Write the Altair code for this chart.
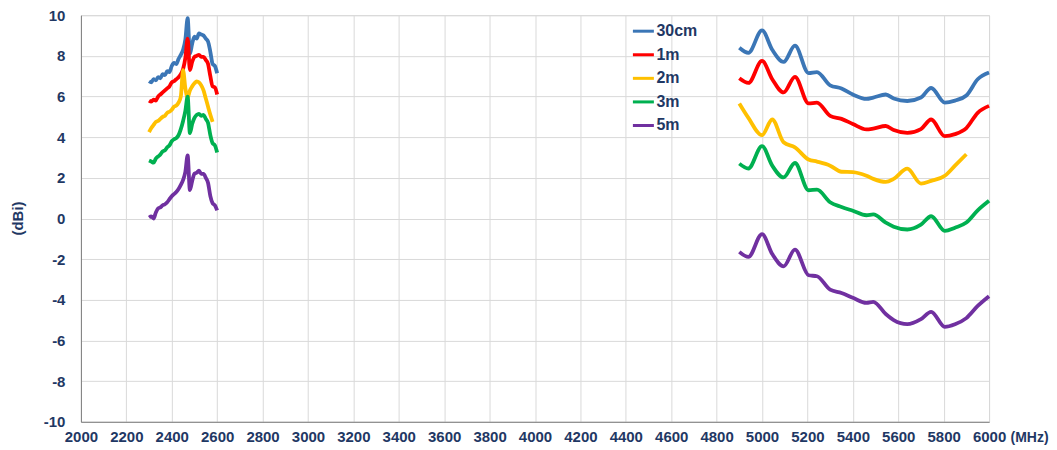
import altair as alt
import pandas as pd

series = ["30cm", "1m", "2m", "3m", "5m"]
colors = ["#3B76B6", "#FF0000", "#FFC000", "#00B050", "#7030A0"]

# 2.4 GHz band
f24 = [2300, 2310, 2320, 2330, 2340, 2350, 2360, 2370, 2380, 2390, 2400, 2410, 2420, 2430, 2440,
       2450, 2460, 2470, 2480, 2490, 2500, 2510, 2520, 2530, 2540, 2550, 2560, 2570, 2580, 2590, 2600]
g24_30cm = [6.75, 6.7, 6.85, 6.8, 6.95, 6.9, 7.1, 7.05, 7.25, 7.2, 7.5, 7.65, 7.6, 7.85, 8.05,
            8.3, 8.8, 9.85, 8.1, 8.6, 8.95, 8.85, 9.1, 9.05, 9.0, 8.85, 8.7, 8.2, 7.6, 7.5, 7.15]
g24_1m = [5.8, 5.75, 5.85, 5.8, 6.0, 6.1, 6.2, 6.3, 6.4, 6.5, 6.7, 6.75, 6.85, 6.95, 7.1,
          7.35, 7.9, 8.85, 7.3, 7.7, 7.95, 8.0, 8.05, 7.95, 7.95, 7.8, 7.6, 7.0, 6.5, 6.45, 6.1]
g24_2m = [4.25, 4.45, 4.6, 4.75, 4.8, 4.9, 5.0, 5.05, 5.2, 5.25, 5.35, 5.5, 5.55, 5.7, 6.0,
          7.3, 6.4, 5.95, 6.3, 6.5, 6.65, 6.75, 6.7, 6.55, 6.3, 5.9, 5.5, 5.1, 4.75]
g24_3m = [2.85, 2.8, 2.75, 2.95, 3.05, 3.15, 3.3, 3.35, 3.5, 3.6, 3.8, 3.9, 3.95, 4.1, 4.4,
          4.8, 5.3, 6.0, 4.2, 4.65, 4.95, 5.1, 5.15, 5.05, 5.1, 4.9, 4.7, 4.1, 3.7, 3.6, 3.25]
g24_5m = [0.05, 0.1, 0.0, 0.3, 0.5, 0.55, 0.65, 0.7, 0.8, 0.95, 1.1, 1.2, 1.3, 1.45, 1.65,
          1.9, 2.3, 3.1, 1.4, 1.85, 2.2, 2.25, 2.35, 2.2, 2.2, 2.0, 1.75, 1.1, 0.75, 0.65, 0.4]

# 5 GHz band
f5 = [4900, 4940, 5000, 5045, 5095, 5145, 5205, 5242, 5300, 5350, 5400, 5460, 5490, 5545,
      5580, 5640, 5700, 5745, 5805, 5850, 5900, 5950, 6000]
g5_30cm = [8.4, 8.15, 9.25, 8.3, 7.7, 8.5, 7.15, 7.2, 6.55, 6.4, 6.1, 5.88, 5.95, 6.1,
           5.9, 5.78, 5.95, 6.42, 5.7, 5.8, 6.05, 6.85, 7.18]
g5_1m = [6.9, 6.67, 7.75, 6.85, 6.2, 6.97, 5.66, 5.7, 5.05, 4.9, 4.65, 4.38, 4.42, 4.55,
         4.35, 4.21, 4.4, 4.87, 4.05, 4.15, 4.45, 5.2, 5.54]
g5_2m = [5.66, 4.95, 4.1, 4.87, 3.75, 3.5, 2.9, 2.8, 2.6, 2.3, 2.28, 2.1, 1.95, 1.8,
         1.95, 2.45, 1.72, 1.85, 2.1, 2.6, 3.16]
g5_3m = [2.7, 2.46, 3.56, 2.6, 2.02, 2.73, 1.39, 1.42, 0.8, 0.57, 0.38, 0.16, 0.2, -0.2,
         -0.4, -0.54, -0.3, 0.11, -0.61, -0.45, -0.2, 0.4, 0.87]
g5_5m = [-1.64, -1.89, -0.77, -1.75, -2.35, -1.53, -2.79, -2.84, -3.5, -3.66, -3.9, -4.15, -4.1, -4.7,
         -5.0, -5.2, -4.95, -4.59, -5.33, -5.2, -4.9, -4.3, -3.82]

x_ticks = list(range(2000, 6001, 200))
y_ticks = list(range(-10, 11, 2))

rows = []
for name, v24, v5 in zip(series,
                         [g24_30cm, g24_1m, g24_2m, g24_3m, g24_5m],
                         [g5_30cm, g5_1m, g5_2m, g5_3m, g5_5m]):
    for f, v in zip(f24, v24):
        rows.append({"series": name, "band": "2.4G", "f": f, "g": v})
    for f, v in zip(f5, v5):
        rows.append({"series": name, "band": "5G", "f": f, "g": v})
df = pd.DataFrame(rows)

navy = "#1F3864"
font = "Liberation Sans"

chart = alt.Chart(df).mark_line(strokeWidth=3.8, interpolate="monotone").encode(
    x=alt.X("f:Q",
            scale=alt.Scale(domain=[2000, 6000], nice=False, zero=False),
            axis=alt.Axis(values=x_ticks, title="(MHz)", labelPadding=8, labelFlush=False,
                          labelExpr="'' + datum.value",
                          titleX=930, titleY=16, titleAlign="left", titleBaseline="middle",
                          titleFontSize=14)),
    y=alt.Y("g:Q",
            scale=alt.Scale(domain=[-10, 10], nice=False, zero=False),
            axis=alt.Axis(values=y_ticks, title="(dBi)", labelPadding=16, labelFlush=False,
                          labelExpr="'' + datum.value",
                          titleX=-63, titleY=203, titleAlign="center", titleBaseline="middle")),
    color=alt.Color("series:N",
                    scale=alt.Scale(domain=series, range=colors),
                    legend=alt.Legend(title=None, orient="none", legendX=551, legendY=4,
                                      symbolType="stroke", symbolSize=441, symbolStrokeWidth=3,
                                      labelFont=font, labelFontSize=16, labelFontWeight="bold",
                                      labelColor=navy, rowPadding=3.6, padding=0,
                                      labelOffset=1)),
    detail="band:N",
    order="f:Q",
).properties(
    width=909, height=407,
    padding={"left": 3, "top": 0, "right": 0, "bottom": 0},
).configure_view(
    stroke="#D9D9D9"
).configure_axis(
    labelFont=font, labelFontSize=15, labelFontWeight="bold", labelColor=navy,
    titleFont=font, titleFontSize=15, titleFontWeight="bold", titleColor=navy,
    gridColor="#D9D9D9", gridWidth=1, domainColor="#7F7F7F", domainWidth=1,
    ticks=False, tickSize=0,
)

chart.save("out.html", embed_options={"renderer": "svg", "actions": False})
